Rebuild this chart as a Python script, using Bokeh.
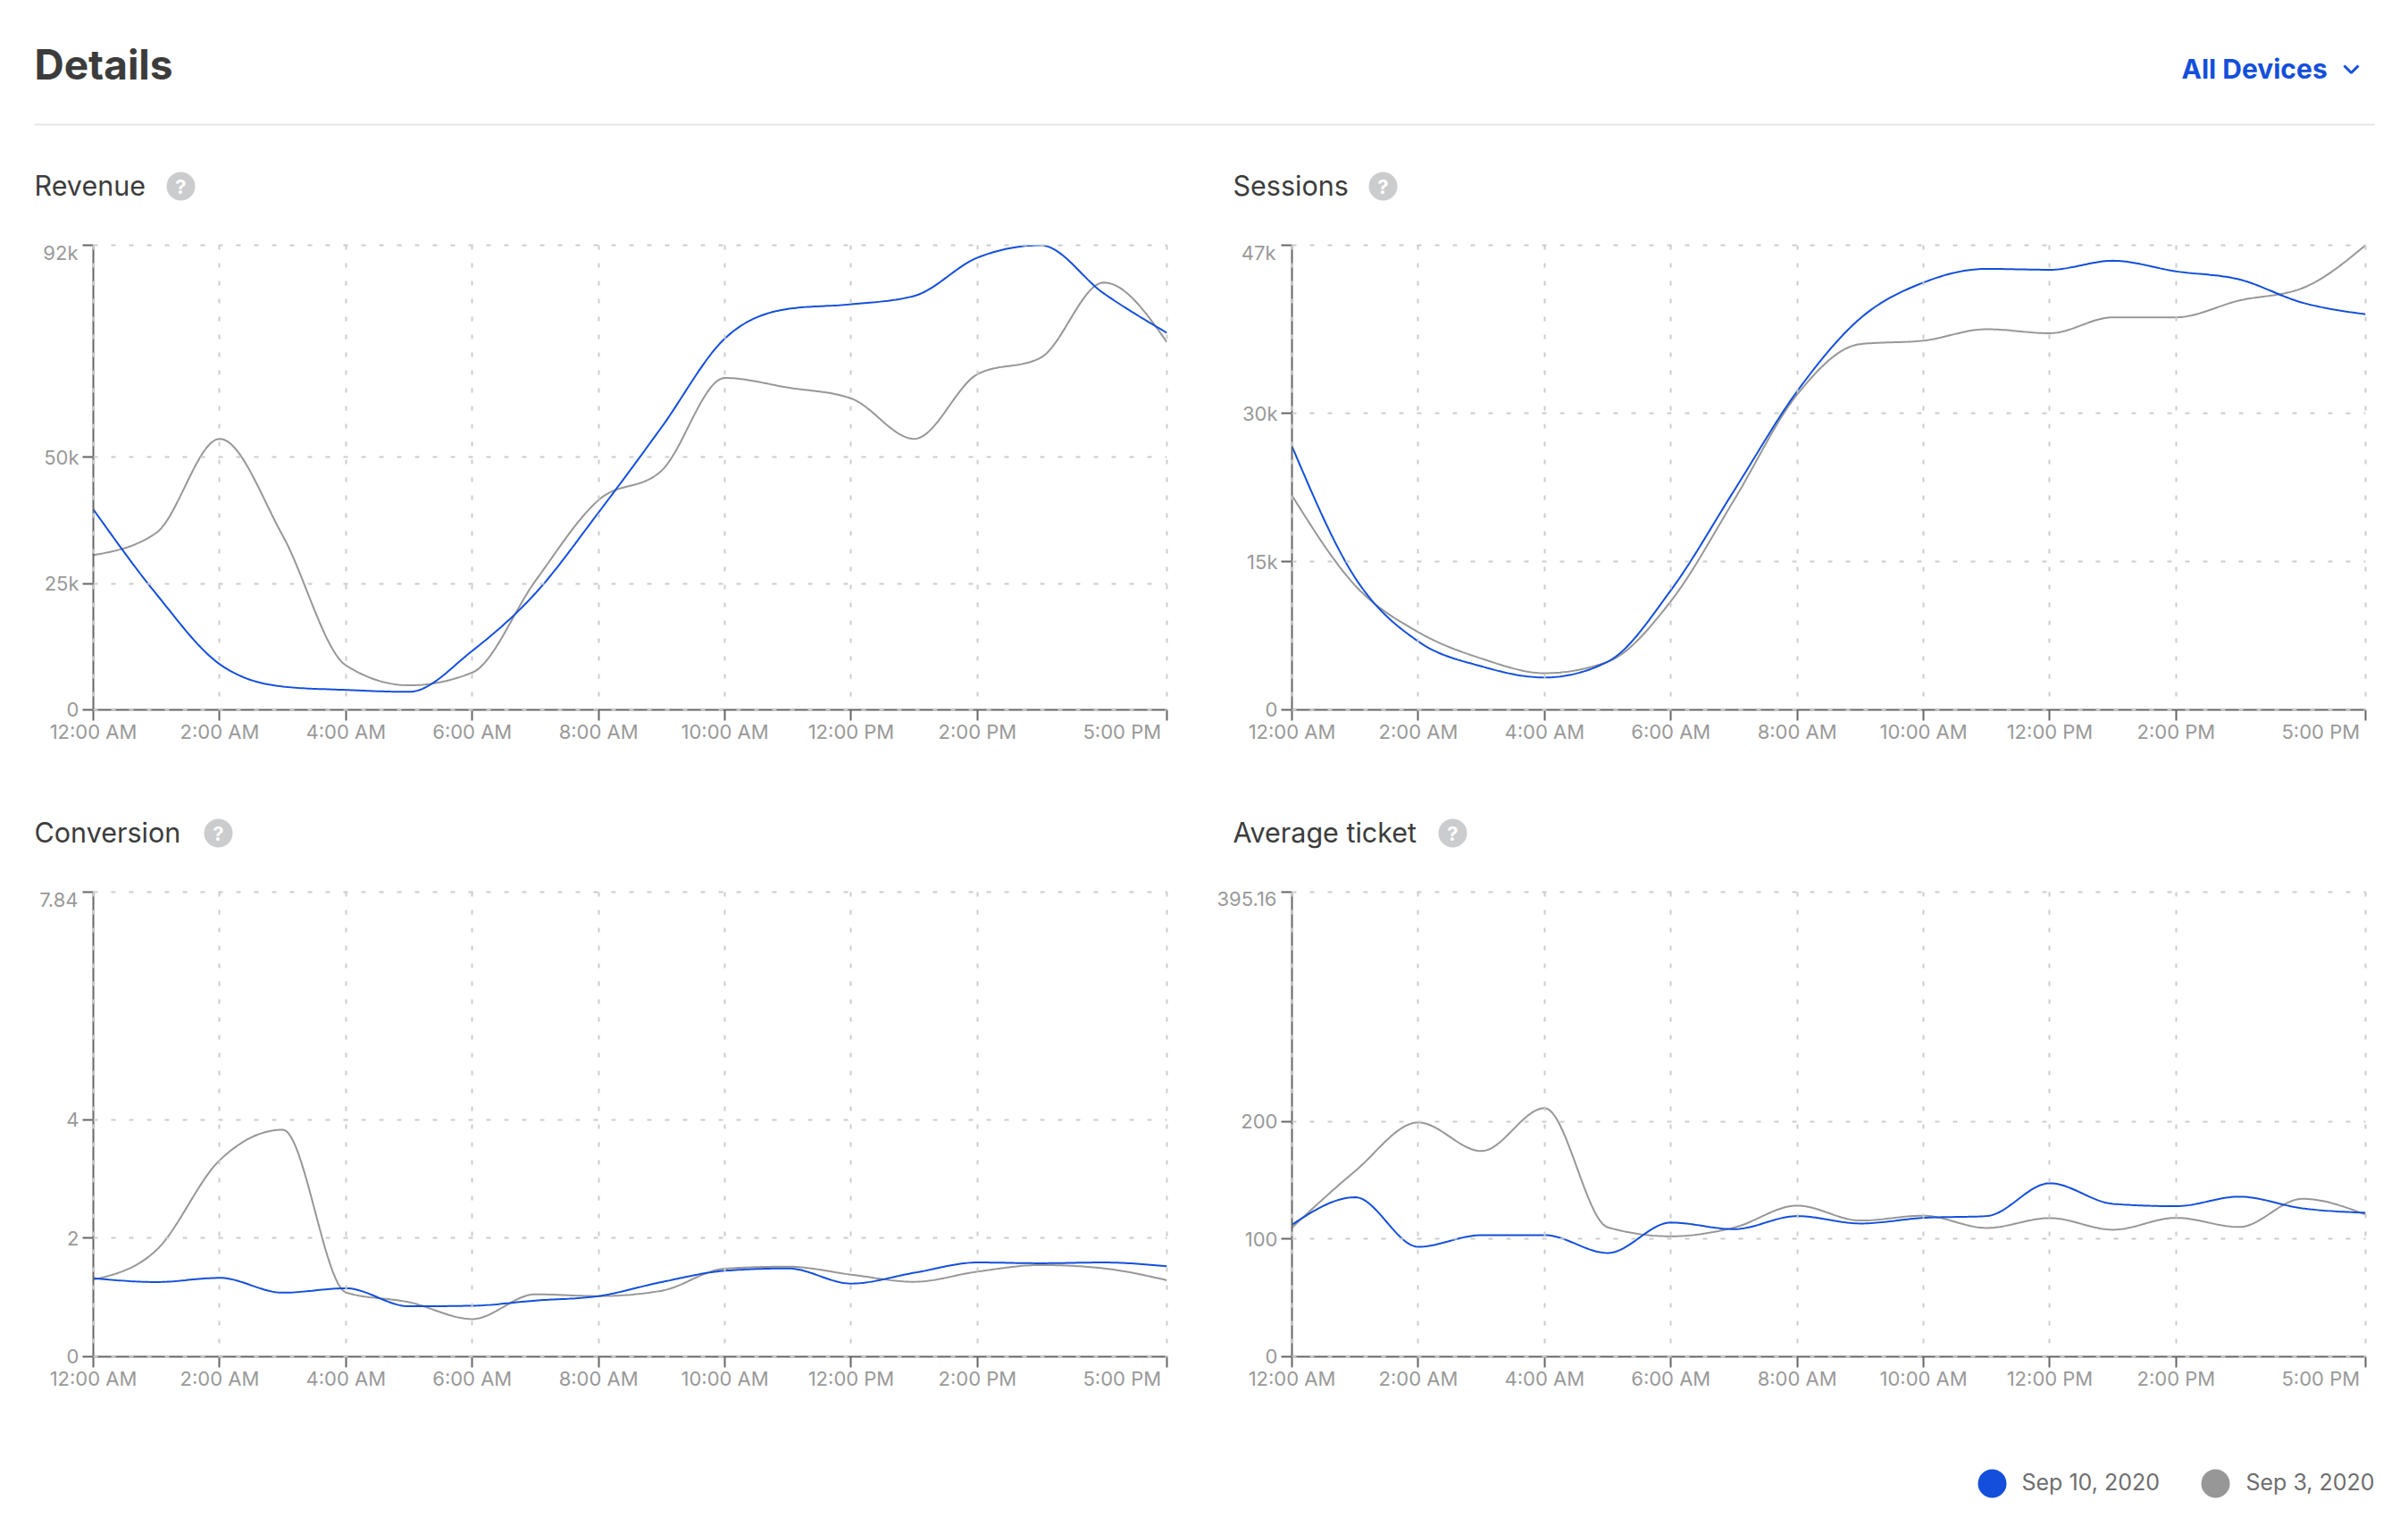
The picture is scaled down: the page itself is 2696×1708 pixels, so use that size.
from bokeh.plotting import figure
from bokeh.layouts import column, row
from bokeh.models import Range1d, FixedTicker, LinearAxis
from bokeh.core.properties import value
from bokeh.embed import file_html
from bokeh.resources import INLINE
import numpy as np

hours = list(range(18))
x_ticks = [0, 2, 4, 6, 8, 10, 12, 14, 17]
x_labels = ["12:00 AM", "2:00 AM", "4:00 AM", "6:00 AM", "8:00 AM", "10:00 AM", "12:00 PM", "2:00 PM", "5:00 PM"]

revenue_a = [39700, 22890, 9050, 4615, 3940, 3570, 11690, 23080, 39080, 56000, 73540, 79390, 80310, 81970, 89540, 92000, 82460, 74650]
revenue_b = [30650, 35080, 53660, 34460, 8800, 4860, 7385, 25540, 41540, 47390, 65720, 63820, 61660, 53660, 66460, 69720, 84620, 72800]
sessions_a = [26660, 13360, 6920, 4400, 3270, 4870, 12100, 22170, 32230, 39610, 43230, 44610, 44520, 45430, 44360, 43540, 41190, 40020]
sessions_b = [21690, 12580, 7860, 5190, 3710, 4870, 11000, 21220, 31910, 37000, 37350, 38510, 38100, 39710, 39710, 41410, 42660, 47000]
conversion_a = [1.325, 1.26, 1.33, 1.08, 1.154, 0.85, 0.86, 0.947, 1.023, 1.26, 1.45, 1.49, 1.234, 1.416, 1.59, 1.577, 1.59, 1.526]
conversion_b = [1.30, 1.80, 3.315, 3.83, 1.083, 0.92, 0.635, 1.053, 1.023, 1.113, 1.486, 1.52, 1.385, 1.264, 1.436, 1.547, 1.49, 1.29]
ticket_a = [112.3, 135.6, 93.5, 103.4, 103.4, 88.2, 114.1, 108.5, 119.6, 113.3, 118.1, 119.6, 147.5, 130, 128, 136.1, 126.2, 122.4]
ticket_b = [109.8, 157.9, 199.2, 174.9, 211.4, 110, 102.4, 109.8, 128.5, 115.8, 119.9, 109.5, 117.9, 108, 118.1, 110.3, 134.3, 120.9]

revenue_ticks, revenue_labels = [0, 25000, 50000, 92000], ["0", "25k", "50k", "92k"]
sessions_ticks, sessions_labels = [0, 15000, 30000, 47000], ["0", "15k", "30k", "47k"]
conversion_ticks, conversion_labels = [0, 2, 4, 7.84], ["0", "2", "4", "7.84"]
ticket_ticks, ticket_labels = [0, 100, 200, 395.16], ["0", "100", "200", "395.16"]

series_names = ["Sep 10, 2020", "Sep 3, 2020"]
BLUE, GRAY = "#134fdb", "#979797"
AXIS, TICK_TEXT, INK = "#666666", "#999999", "#3c3c3c"
FONT = "Inter"
TICK_FONT = "22px"


def monotone_curve(xs, ys, steps=24):
    """Draw a smooth curve through the points (same shape as a monotone-X path)."""
    xs, ys = np.asarray(xs, float), np.asarray(ys, float)
    h = np.diff(xs)
    s = np.diff(ys) / h
    m = np.zeros_like(ys)
    for i in range(1, len(ys) - 1):
        if s[i - 1] * s[i] > 0:
            p = (s[i - 1] * h[i] + s[i] * h[i - 1]) / (h[i - 1] + h[i])
            m[i] = np.sign(s[i]) * min(abs(s[i - 1]), abs(s[i]), 0.5 * abs(p)) * 2
    m[0] = (3 * s[0] - m[1]) / 2
    m[-1] = (3 * s[-1] - m[-2]) / 2
    out_x, out_y = [], []
    for i in range(len(h)):
        t = np.linspace(0, 1, steps, endpoint=i == len(h) - 1)
        y1 = ys[i] + m[i] * h[i] / 3
        y2 = ys[i + 1] - m[i + 1] * h[i] / 3
        out_x.extend(xs[i] + t * h[i])
        out_y.extend((1 - t) ** 3 * ys[i] + 3 * (1 - t) ** 2 * t * y1 + 3 * (1 - t) * t ** 2 * y2 + t ** 3 * ys[i + 1])
    return out_x, out_y


def label_axis(tick, label, standoff):
    """An axis that carries one shifted tick label and draws no line or tick of its own."""
    return LinearAxis(ticker=FixedTicker(ticks=[tick]), major_label_overrides={tick: label},
                      axis_line_color=None, major_tick_line_color=None,
                      minor_tick_line_color=None, major_tick_in=0, major_tick_out=0,
                      major_label_standoff=standoff, major_label_text_color=TICK_TEXT,
                      major_label_text_font=FONT, major_label_text_font_size=TICK_FONT)


def chart(ticks, labels, a, b, border_left, border_right, y_label_width):
    top = ticks[-1]
    p = figure(width=border_left + 1202 + border_right, height=14 + 520 + 64,
               x_range=Range1d(-1e-5, 17 + 1e-5), y_range=Range1d(-top * 1e-6, top * (1 + 1e-6)),
               min_border_left=border_left, min_border_right=border_right, min_border_top=14, min_border_bottom=64,
               output_backend="svg", toolbar_location=None, outline_line_color=None)
    p.border_fill_color = None
    p.background_fill_color = None
    over_y = {t: l for t, l in zip(ticks, labels)}
    over_y[top] = ""
    over_x = {t: l for t, l in zip(x_ticks, x_labels)}
    over_x[x_ticks[-1]] = ""
    for ax, tk, ov in ((p.xaxis[0], x_ticks, over_x), (p.yaxis[0], ticks, over_y)):
        ax.ticker = FixedTicker(ticks=tk)
        ax.major_label_overrides = ov
        ax.axis_line_color = AXIS
        ax.axis_line_width = 2
        ax.major_tick_line_color = AXIS
        ax.major_tick_line_width = 2
        ax.major_tick_in = 0
        ax.major_tick_out = 12
        ax.minor_tick_line_color = None
        ax.major_label_text_color = TICK_TEXT
        ax.major_label_text_font = FONT
        ax.major_label_text_font_size = TICK_FONT
    p.xaxis[0].major_label_standoff = -1
    p.yaxis[0].major_label_standoff = 4
    for g, tk in ((p.xgrid[0], x_ticks), (p.ygrid[0], ticks)):
        g.ticker = FixedTicker(ticks=tk)
        g.grid_line_color = "#cccccc"
        g.grid_line_width = 2
        g.grid_line_dash = "5 15"
        g.level = "guide"
    p.xgrid[0].grid_line_dash_offset = 5
    xb, yb = monotone_curve(hours, b)
    xa, ya = monotone_curve(hours, a)
    p.line(xb, yb, line_color=GRAY, line_width=2)
    p.line(xa, ya, line_color=BLUE, line_width=2)
    # The top y label sits just under its tick and the last x label ends at the axis end.
    p.add_layout(label_axis(round(top * 512 / 520, 3), labels[-1], -y_label_width), "left")
    p.add_layout(label_axis(16.29, x_labels[-1], -29), "below")
    return p


def band(top, bottom):
    p = figure(width=2680, height=bottom - top, x_range=Range1d(0, 2680), y_range=Range1d(bottom, top),
               x_axis_type=None, y_axis_type=None, min_border=0, output_backend="svg",
               toolbar_location=None, outline_line_color=None)
    p.grid.visible = False
    return p


def text(p, x, y, s, color, size, style="normal", align="left"):
    p.text([x], [y], text=[s], text_color=color, text_font=value(FONT), text_font_size=size,
           text_font_style=style, text_align=align, text_baseline="middle")


def metric_title(p, x, y, s, icon_x):
    text(p, x, y - 2, s, INK, "30.5px")
    p.scatter([icon_x], [y - 1], size=32, fill_color="#cbcccd", line_color=None)
    text(p, icon_x, y - 1, "?", "white", "22px", "bold", "center")


head = band(0, 260)
text(head, 38, 71, "Details", INK, "46px", "bold")
text(head, 2442, 76, "All Devices", BLUE, "30px", "bold")
head.line([2624, 2632, 2640], [73, 81, 73], line_color=BLUE, line_width=3)
head.line([38, 2658], [139, 139], line_color="#e5e5e5", line_width=2)
metric_title(head, 38, 209, "Revenue", 202)
metric_title(head, 1380, 209, "Sessions", 1548)

mid = band(858, 984)
metric_title(mid, 38, 933, "Conversion", 244)
metric_title(mid, 1380, 933, "Average ticket", 1626)

foot = band(1582, 1700)
foot.scatter([2230], [1660], size=32, fill_color=BLUE, line_color=None)
text(foot, 2263, 1658, series_names[0], "#6e6e6e", "25px")
foot.scatter([2480], [1660], size=32, fill_color=GRAY, line_color=None)
text(foot, 2514, 1658, series_names[1], "#6e6e6e", "25px")

p1 = chart(revenue_ticks, revenue_labels, revenue_a, revenue_b, 104, 44, 41)
p2 = chart(sessions_ticks, sessions_labels, sessions_a, sessions_b, 96, 32, 41)
p3 = chart(conversion_ticks, conversion_labels, conversion_a, conversion_b, 104, 44, 16)
p4 = chart(ticket_ticks, ticket_labels, ticket_a, ticket_b, 96, 32, 43)

page = column(head, row(p1, p2, spacing=0), mid, row(p3, p4, spacing=0), foot, spacing=0)
open("out.html", "w").write(file_html(page, INLINE))
